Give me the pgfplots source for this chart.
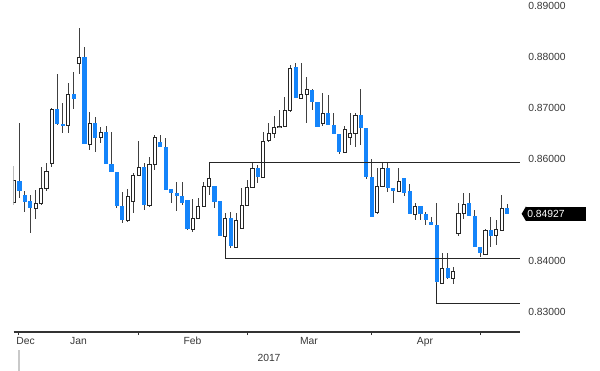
\documentclass[border=0pt]{standalone}
\usepackage{pgfplots}
\pgfplotsset{compat=1.18}
\usepackage{pgfplotstable}
\usepackage{fontspec}
\setmainfont{Liberation Sans}
\definecolor{candleblue}{RGB}{20,132,250}
\definecolor{txt}{RGB}{55,55,55}

% up candles (close >= open): index, open, high, low, close
\pgfplotstableread{
i o h l c
1 0.85157 0.85863 0.85098 0.85588
5 0.85039 0.85392 0.84824 0.85137
6 0.85137 0.85843 0.85098 0.85431
7 0.85431 0.85922 0.85373 0.85765
8 0.85922 0.87000 0.85843 0.86980
11 0.86667 0.87490 0.86510 0.87275
13 0.87882 0.88569 0.87667 0.88000
15 0.86294 0.86922 0.86176 0.86706
17 0.86431 0.86627 0.86314 0.86529
22 0.84804 0.85412 0.84765 0.85275
23 0.85176 0.85725 0.84941 0.85686
24 0.85686 0.86353 0.85667 0.85843
26 0.85098 0.86039 0.85059 0.85902
27 0.85902 0.86471 0.85784 0.86431
34 0.84627 0.85216 0.84569 0.84843
35 0.84843 0.85235 0.84843 0.85078
36 0.85078 0.85549 0.85078 0.85471
37 0.85471 0.85627 0.85294 0.85627
40 0.84490 0.84941 0.84490 0.84843
42 0.84275 0.84941 0.84255 0.84804
43 0.84647 0.85431 0.84627 0.85098
44 0.85098 0.85588 0.85078 0.85451
45 0.85451 0.85941 0.85431 0.85824
47 0.85647 0.86529 0.85627 0.86353
48 0.86373 0.86706 0.86333 0.86510
49 0.86510 0.86843 0.86412 0.86627
50 0.86627 0.86961 0.86608 0.86647
51 0.86647 0.87216 0.86627 0.86961
52 0.86961 0.87843 0.86922 0.87784
54 0.87196 0.87882 0.87176 0.87275
55 0.87275 0.87608 0.86706 0.87373
58 0.86706 0.87294 0.86647 0.86902
62 0.86137 0.86647 0.86118 0.86588
63 0.86431 0.86902 0.86275 0.86510
64 0.86510 0.86902 0.86235 0.86863
68 0.84961 0.85824 0.84922 0.85471
69 0.85471 0.85922 0.85451 0.85824
72 0.85373 0.85824 0.85353 0.85569
75 0.84922 0.85137 0.84804 0.85078
80 0.83569 0.84157 0.83549 0.83863
82 0.83667 0.83882 0.83549 0.83804
83 0.84549 0.85137 0.84490 0.84941
84 0.84941 0.85333 0.84824 0.85118
88 0.84137 0.84627 0.84137 0.84608
90 0.84510 0.84804 0.84314 0.84627
91 0.84608 0.85294 0.84608 0.85039
}\uptable

% down candles (close < open)
\pgfplotstableread{
i o h l c
2 0.85569 0.86706 0.85235 0.85373
3 0.85294 0.85373 0.84961 0.85157
4 0.85176 0.85294 0.84549 0.85039
9 0.86980 0.87667 0.86667 0.86686
10 0.86686 0.87098 0.86510 0.86667
12 0.87275 0.87706 0.86980 0.87176
14 0.88000 0.88196 0.86294 0.86294
16 0.86706 0.86824 0.86137 0.86412
18 0.86529 0.86647 0.85902 0.85902
19 0.85902 0.86529 0.85745 0.85745
20 0.85745 0.85745 0.85039 0.85078
21 0.85078 0.85353 0.84745 0.84804
25 0.85843 0.85922 0.85000 0.85098
28 0.86333 0.86471 0.86235 0.86235
29 0.86235 0.86412 0.85392 0.85392
30 0.85412 0.85412 0.85137 0.85333
31 0.85333 0.85549 0.84980 0.85275
32 0.85275 0.85549 0.85098 0.85137
33 0.85196 0.85196 0.84608 0.84627
38 0.85471 0.85471 0.85039 0.85157
39 0.85176 0.85176 0.84490 0.84490
41 0.84843 0.84961 0.84255 0.84294
46 0.85824 0.85882 0.85529 0.85647
53 0.87804 0.87882 0.87196 0.87196
56 0.87353 0.87373 0.86961 0.87118
57 0.87118 0.87118 0.86627 0.86627
59 0.86902 0.87255 0.86667 0.86667
60 0.86667 0.86902 0.86490 0.86490
61 0.86490 0.86490 0.86098 0.86137
65 0.86863 0.87373 0.86275 0.86608
66 0.86608 0.86608 0.85608 0.85647
67 0.85647 0.86000 0.84863 0.84863
70 0.85824 0.85922 0.85353 0.85431
71 0.85431 0.85431 0.85137 0.85373
73 0.85627 0.85627 0.85275 0.85333
74 0.85373 0.85510 0.84922 0.84922
76 0.85078 0.85078 0.84804 0.84922
77 0.84922 0.84961 0.84706 0.84804
78 0.84765 0.84863 0.84706 0.84706
79 0.84706 0.85137 0.83569 0.83588
81 0.83863 0.84157 0.83647 0.83667
85 0.85137 0.85333 0.84882 0.84882
86 0.84882 0.85000 0.84275 0.84275
87 0.84275 0.84275 0.84078 0.84157
89 0.84608 0.84863 0.84275 0.84490
92 0.85039 0.85118 0.84927 0.84927
}\downtable

\pgfplotsset{
  candle/.style n args={2}{draw=none, no markers,
    error bars/.cd, y dir=both, y explicit, error mark=none,
    error bar style={draw=#1, line width=#2, line cap=butt}},
}

\begin{document}
\begin{tikzpicture}
\begin{axis}[
  at={(8.1pt,23.4pt)}, anchor=south west,
  scale only axis, width=303.9pt, height=199.2pt,
  xmin=0.908, xmax=94.36, ymin=0.82608, ymax=0.89118,
  clip mode=individual,
  axis x line*=bottom, axis y line*=right,
  y axis line style={draw=none},
  x axis line style={draw=black!80, line width=0.7pt, -},
  font=\fontsize{6.2}{7.4}\selectfont,
  ytick={0.83,0.84,0.86,0.87,0.88,0.89},
  yticklabels={0.83000,0.84000,0.86000,0.87000,0.88000,0.89000},
  ytick style={draw=none},
  yticklabel style={anchor=west, inner sep=0pt, xshift=3pt, text=txt},
  xtick={1.92,23.88,43.99,66.87,86.98},
  xticklabels={},
  xtick style={draw=black!80, line width=0.6pt},
  tick align=outside, major tick length=1.8pt,
  extra x ticks={12.9,33.93,55.43,76.83},
  extra x tick labels={Jan,Feb,Mar,Apr},
  extra x tick style={major tick length=0pt, tick style={draw=none},
    xticklabel style={anchor=north, inner sep=0pt, yshift=-3pt, text=txt}},
]
% wicks
\addplot[candle={black!75}{0.6pt}]
  table[x=i, y expr={(\thisrow{h}+\thisrow{l})/2}, y error expr={(\thisrow{h}-\thisrow{l})/2}] {\uptable};
\addplot[candle={black!75}{0.6pt}]
  table[x=i, y expr={(\thisrow{h}+\thisrow{l})/2}, y error expr={(\thisrow{h}-\thisrow{l})/2}] {\downtable};
% down bodies
\addplot[candle={candleblue}{2.5pt}]
  table[x=i, y expr={(\thisrow{o}+\thisrow{c})/2}, y error expr={(\thisrow{o}-\thisrow{c})/2+0.00004}] {\downtable};
% up bodies: outline then white fill
\addplot[candle={black!85}{2.5pt}]
  table[x=i, y expr={(\thisrow{o}+\thisrow{c})/2}, y error expr={(\thisrow{c}-\thisrow{o})/2+0.000098}] {\uptable};
\addplot[candle={white}{1.3pt}]
  table[x=i, y expr={(\thisrow{o}+\thisrow{c})/2}, y error expr={max((\thisrow{c}-\thisrow{o})/2-0.000098,0)}] {\uptable};
% level lines
\addplot[black!85, line width=0.6pt] coordinates {(37,0.85627) (37,0.85941) (94.36,0.85941)};
\addplot[black!85, line width=0.6pt] coordinates {(40,0.84490) (40,0.84059) (94.36,0.84059)};
\addplot[black!85, line width=0.6pt] coordinates {(79,0.83569) (79,0.83176) (94.36,0.83176)};
% annotations
\node[anchor=north west, inner sep=0pt, text=txt, font=\fontsize{6.2}{7.4}\selectfont]
  at ([yshift=-3pt]axis cs:1.37,0.82608) {Dec};
\node[anchor=center, inner sep=0pt, text=txt, font=\fontsize{6.2}{7.4}\selectfont]
  at ([yshift=-15.6pt]axis cs:48.05,0.82608) {2017};
\draw[black!60, line width=0.4pt] ([yshift=-10.8pt]axis cs:1.92,0.82608) -- ++(0,-7.2pt);
\node[fill=black, text=white, anchor=west, inner xsep=0.6pt, inner ysep=0pt,
  minimum height=8.4pt, font=\fontsize{6.2}{7.4}\selectfont] (lb)
  at ([xshift=3.6pt]axis cs:94.36,0.84927) {\makebox[34.8pt][l]{0.84927}};
\fill[black] (lb.north west) -- ([xshift=-2.6pt]lb.west) -- (lb.south west) -- cycle;
\end{axis}
\pgfresetboundingbox
\path[use as bounding box] (0,0) rectangle (360pt,222.6pt);
\end{tikzpicture}
\end{document}
